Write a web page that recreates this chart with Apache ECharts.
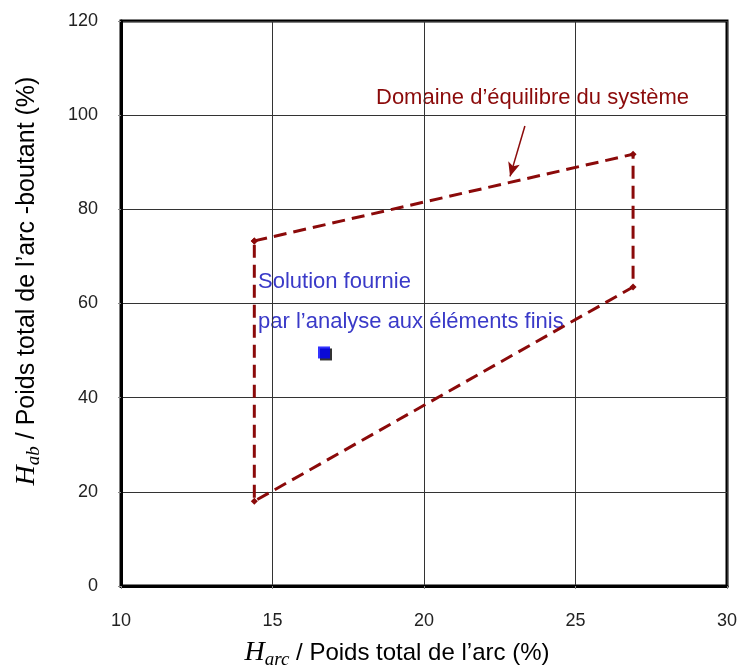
<!DOCTYPE html>
<html>
<head>
<meta charset="utf-8">
<script src="https://cdn.jsdelivr.net/npm/echarts@6/dist/echarts.min.js"></script>
<style>html,body{margin:0;padding:0;background:#fff}#c{width:737px;height:669px}</style>
</head>
<body>
<div id="c"></div>
<script>
// Data
const domainX = [14.4, 26.9, 26.9, 14.4, 14.4];
const domainY = [73.3, 91.7, 63.5, 18.0, 73.3];
const solutionX = [16.7];
const solutionY = [49.6];
const arrowFrom = [23.33, 97.7];
const arrowTo = [22.84, 87.0];
const xTicks = [10, 15, 20, 25, 30];
const yTicks = [0, 20, 40, 60, 80, 100, 120];

const SANS = "'Liberation Sans',Arial,sans-serif";
const SERIF = "'Liberation Serif','Times New Roman',serif";
const RED = '#8b0a0a';
const BLUE = '#3a3ac8';

const chart = echarts.init(document.getElementById('c'), null, {renderer: 'canvas'});
const axisCommon = {
  type: 'value',
  axisLine: {show: true, onZero: false, lineStyle: {color: '#000', width: 3}},
  axisTick: {show: true, length: 3, lineStyle: {color: '#888', width: 1}},
  splitLine: {show: true, lineStyle: {color: '#333', width: 1}},
  axisLabel: {color: '#222', fontFamily: SANS, fontSize: 18}
};
const titleRich = {
  h: {fontFamily: SERIF, fontStyle: 'italic', fontSize: 28, fill: '#000'},
  s: {fontFamily: SERIF, fontStyle: 'italic', fontSize: 19, fill: '#000', padding: [13, 0, 0, 0]},
  t: {fontFamily: SANS, fontSize: 24, fill: '#000'}
};
chart.setOption({
  animation: false,
  backgroundColor: '#fff',
  grid: {left: 121, right: 10, top: 21, bottom: 83, containLabel: false, outerBoundsMode: 'none',
    show: true, borderColor: '#000', borderWidth: 3, backgroundColor: 'transparent'},
  xAxis: Object.assign({}, axisCommon, {min: xTicks[0], max: xTicks[xTicks.length-1], interval: 5,
    axisLabel: Object.assign({}, axisCommon.axisLabel, {margin: 26})}),
  yAxis: Object.assign({}, axisCommon, {min: yTicks[0], max: yTicks[yTicks.length-1], interval: 20,
    axisLabel: Object.assign({}, axisCommon.axisLabel, {margin: 23})}),
  series: [
    {
      type: 'line',
      data: domainX.map((x, i) => [x, domainY[i]]),
      symbol: 'diamond', symbolSize: 7,
      itemStyle: {color: RED},
      lineStyle: {color: RED, width: 3, type: [13, 7]},
      z: 3,
      markLine: {
        silent: true,
        symbol: ['none', 'arrow'], symbolSize: [9, 14],
        lineStyle: {color: RED, width: 1.5, type: 'solid'},
        label: {show: false},
        data: [[{coord: arrowFrom}, {coord: arrowTo}]]
      }
    },
    {
      type: 'scatter',
      data: solutionX.map((x, i) => [x, solutionY[i]]),
      symbol: 'rect', symbolSize: 12,
      itemStyle: {color: '#0000ff', shadowColor: '#000', shadowOffsetX: 2, shadowOffsetY: 2, shadowBlur: 0},
      z: 4
    }
  ],
  graphic: [
    {type: 'text', x: 376, y: 98, style: {text: 'Domaine d’équilibre du système', fill: RED, font: '22px ' + SANS, verticalAlign: 'middle'}},
    {type: 'text', x: 258, y: 282, style: {text: 'Solution fournie', fill: BLUE, font: '22px ' + SANS, verticalAlign: 'middle'}},
    {type: 'text', x: 258, y: 322, style: {text: 'par l’analyse aux éléments finis', fill: BLUE, font: '22px ' + SANS, verticalAlign: 'middle'}},
    {type: 'text', x: 397, y: 653, style: {
      text: '{h|H}{s|arc}{t| / Poids total de l’arc (%)}', align: 'center', verticalAlign: 'middle', rich: titleRich}},
    {type: 'text', x: 27, y: 281, rotation: Math.PI / 2, style: {
      text: '{h|H}{s|ab}{t| / Poids total de l’arc -boutant (%)}', align: 'center', verticalAlign: 'middle',
      rich: Object.assign({}, titleRich, {t: Object.assign({}, titleRich.t, {fontSize: 25})})}}
  ]
});
</script>
</body>
</html>
